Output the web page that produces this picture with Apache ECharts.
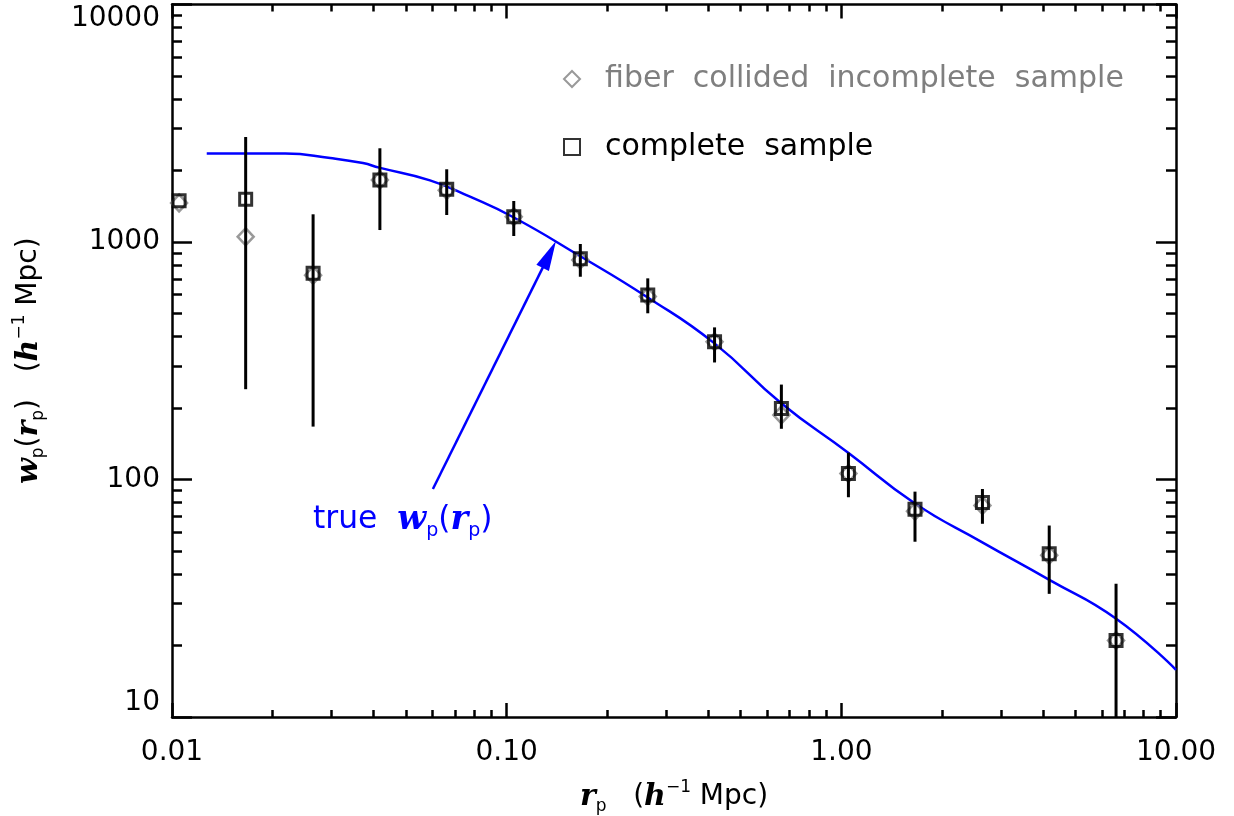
<!DOCTYPE html>
<html><head><meta charset="utf-8">
<script src="https://cdn.jsdelivr.net/npm/echarts@6/dist/echarts.min.js"></script>
<style>html,body{margin:0;padding:0;background:#fff}#c{width:1234px;height:816px}</style>
</head><body><div id="c"></div>
<script>
// ---- data ----
const rp = [0.0105,0.0166,0.0264,0.0418,0.0662,0.105,0.166,0.264,0.418,0.662,1.05,1.66,2.64,4.18,6.62];
const wpComplete = [1490,1515,738,1824,1667,1278,850,598,380,199,106,75,80,48.7,21];
const wpIncomplete = [1460,1052,725,1824,1650,1278,840,590,380,187,106,73.5,77.7,48,21];
const errLow  = [null,240,167,1123,1299,1060,714,501,311,163.5,84.2,54.7,65.1,33,10];
const errHigh = [null,2767,1308,2481,2024,1488,981,703,437,251,129.7,88.9,91.2,64,36.4];
const trueR = [0.0127,0.0166,0.0218,0.0297,0.0372,0.0416,0.059,0.0777,0.1044,0.1656,0.2625,0.416,0.660,1.046,1.66,2.63,4.17,6.61,10];
const trueW = [2358,2358,2358,2258,2150,2056,1818,1551,1274,873,587,376,210,130,79.3,54.5,37.9,26,15.8];
const arrowFrom = [0.0602, 91.2];
const arrowTo = [0.1341, 887];
const xTickLabels = ['0.01','0.10','1.00','10.00'];
const yTickLabels = ['10','100','1000','10000'];
const xMinorTicks = [0.02,0.03,0.04,0.05,0.06,0.07,0.08,0.09,0.2,0.3,0.4,0.5,0.6,0.7,0.8,0.9,2,3,4,5,6,7,8,9];
const yMinorTicks = [20,30,40,50,60,70,80,90,200,300,400,500,600,700,800,900,2000,3000,4000,5000,6000,7000,8000,9000];
const nameIncomplete = 'fiber collided incomplete sample';
const nameComplete = 'complete sample';

const chart = echarts.init(document.getElementById('c'), null, {renderer:'canvas'});
const F = 'DejaVu Sans';
function rich(c, s) {
  s = s || 1;
  return {
    n:   {fontFamily:F, fontSize:28*s, lineHeight:36*s, fill:c, color:c},
    it:  {fontFamily:'DejaVu Serif', fontStyle:'italic', fontWeight:'bold', fontSize:30*s, lineHeight:36*s, fill:c, color:c},
    sub: {fontFamily:F, fontSize:17*s, lineHeight:17*s, verticalAlign:'bottom', fill:c, color:c},
    sup: {fontFamily:F, fontSize:17*s, lineHeight:17*s, verticalAlign:'top', fill:c, color:c}
  };
}
const axLine = {onZero:false, lineStyle:{color:'#000', width:2.5}};
function xAx(pos, major, show) {
  return {type:'log', logBase:10, min:0.01, max:10, position:pos, splitLine:{show:false},
    axisLine: show ? axLine : {show:false, onZero:false},
    axisTick: major ? {inside:true, length:14, lineStyle:{color:'#000', width:2.5}}
                    : {inside:true, length:7, customValues:xMinorTicks, lineStyle:{color:'#000', width:2.5}},
    axisLabel:{show:false}};
}
function yAx(pos, major, show) {
  return {type:'log', logBase:10, min:10, max:10000, position:pos, splitLine:{show:false},
    axisLine: show ? axLine : {show:false, onZero:false},
    axisTick: major ? {inside:true, length:20, lineStyle:{color:'#000', width:2.5}}
                    : {inside:true, length:10, customValues:yMinorTicks, lineStyle:{color:'#000', width:2.5}},
    axisLabel:{show:false}};
}
const x0 = xAx('bottom', true, true);
x0.axisLabel = {show:true, fontFamily:F, fontSize:28, color:'#000', margin:22,
  formatter: v => xTickLabels[Math.round(Math.log10(v)) + 2]};
x0.name = '{it|r}{sub|p}{n|   (}{it|h}{sup|−1}{n| Mpc)}';
x0.nameLocation = 'middle'; x0.nameGap = 62;
x0.nameTextStyle = {rich: rich('#000')};
const y0 = yAx('left', true, true);
y0.axisLabel = {show:true, fontFamily:F, fontSize:28, color:'#000', margin:12,
  verticalAlignMinLabel:'bottom', verticalAlignMaxLabel:'top',
  formatter: v => yTickLabels[Math.round(Math.log10(v)) - 1]};
y0.name = '{it|w}{sub|p}{n|(}{it|r}{sub|p}{n|)}{n|   (}{it|h}{sup|−1}{n| Mpc)}';
y0.nameLocation = 'middle'; y0.nameGap = 125; y0.nameRotate = 90;
y0.nameTextStyle = {rich: rich('#000')};

const errData = rp.map((r,i) => [r, errLow[i], errHigh[i]]).filter(d => d[1] != null);

chart.setOption({
  animation:false,
  backgroundColor:'#fff',
  grid:{left:172, right:58, top:4.5, bottom:99, containLabel:false, outerBoundsMode:'none'},
  xAxis:[x0, xAx('bottom', false, false), xAx('top', true, true), xAx('top', false, false)],
  yAxis:[y0, yAx('left', false, false), yAx('right', true, true), yAx('right', false, false)],
  legend:{orient:'vertical', left:558, top:59, itemWidth:16, itemHeight:16, itemGap:38,
    formatter: n => n.replace(/ /g,'  '),
    textStyle:{fontFamily:F, fontSize:30, padding:[0,0,0,20]},
    data:[{name:nameIncomplete, textStyle:{color:'#7f7f7f'}}, {name:nameComplete, textStyle:{color:'#000'}}]},
  graphic:[{type:'text', left:313, top:503, silent:true,
    style:{text:'{n|true  }{it|w}{sub|p}{n|(}{it|r}{sub|p}{n|)}', rich:rich('#0000ff', 1.12), fill:'#0000ff'}}],
  series:[
    {type:'line', name:'true', data: trueR.map((r,i)=>[r,trueW[i]]), smooth:0.5, showSymbol:false,
      lineStyle:{color:'#0000ff', width:2.5}, z:2,
      markLine:{silent:true, symbol:['none','triangle'], symbolSize:[14,30], label:{show:false},
        lineStyle:{color:'#0000ff', width:2.5, type:'solid'}, itemStyle:{color:'#0000ff'},
        data:[[{coord:arrowFrom}, {coord:arrowTo}]]}
    },
    {type:'scatter', name:nameIncomplete, data: rp.map((r,i)=>[r,wpIncomplete[i]]), symbol:'diamond', symbolSize:[16,17],
      itemStyle:{color:'rgba(0,0,0,0)', borderColor:'#7f7f7f', borderWidth:2.5}, z:3},
    {type:'custom', name:'err', data: errData, encode:{x:0, y:[1,2]}, z:4,
      renderItem:(params, api) => {
        const lo = api.coord([api.value(0), api.value(1)]);
        const hi = api.coord([api.value(0), api.value(2)]);
        return {type:'line', shape:{x1:lo[0], y1:lo[1], x2:hi[0], y2:hi[1]}, style:{stroke:'#000', lineWidth:3}};
      }},
    {type:'scatter', name:nameComplete, data: rp.map((r,i)=>[r,wpComplete[i]]), symbol:'rect', symbolSize:12,
      itemStyle:{color:'rgba(0,0,0,0)', borderColor:'#000', borderWidth:3}, z:5}
  ]
});
</script></body></html>
